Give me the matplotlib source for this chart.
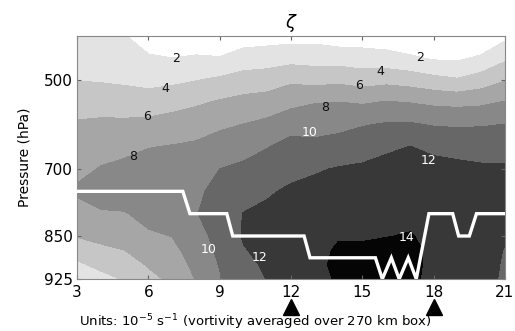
import numpy as np
import matplotlib
matplotlib.use("Agg")
import matplotlib.pyplot as plt

# ---------------- data ----------------
days = [3, 4, 5, 6, 7, 8, 9, 10, 11, 12, 13, 14, 15, 16, 17, 18, 19, 20, 21]
pressure = [400, 450, 500, 550, 600, 650, 700, 750, 800, 850, 875, 900, 925]

# vorticity (1e-5 s^-1), one list per day column, top (400 hPa) to bottom (925 hPa)
zeta_by_day = [
    [2.6, 3.3, 3.95, 5.16, 6.21, 6.84, 7.46, 8.3, 7.16, 6.1, 4.88, 3.67, 3.0],
    [2.3, 3.1, 3.84, 5.15, 6.37, 7.25, 8.12, 8.88, 7.79, 6.51, 5.59, 4.48, 3.4],
    [2.1, 2.89, 3.68, 4.99, 6.40, 7.47, 8.49, 9.15, 7.86, 6.72, 5.98, 5.05, 4.13],
    [1.03, 2.22, 3.41, 4.9, 6.53, 7.93, 8.8, 9.6, 8.67, 7.68, 6.93, 6.17, 5.42],
    [0.6, 2.0, 3.57, 5.30, 6.82, 8.11, 8.98, 9.8, 8.89, 8.04, 7.49, 6.94, 6.4],
    [0.6, 2.23, 3.92, 5.70, 7.23, 8.28, 8.85, 9.7, 9.9, 9.3, 8.9, 8.5, 8.1],
    [0.5, 2.1, 4.35, 6.21, 7.65, 8.86, 10.0, 10.48, 10.95, 10.62, 10.36, 10.1, 9.84],
    [0.96, 2.87, 4.82, 6.6, 8.03, 9.3, 10.38, 11.22, 12.05, 12.15, 11.9, 11.55, 11.2],
    [1.13, 3.04, 5.0, 6.87, 8.48, 9.92, 10.86, 11.77, 12.4, 12.6, 12.45, 12.25, 12.05],
    [1.27, 3.27, 5.65, 7.43, 9.32, 10.58, 11.45, 12.3, 12.7, 13.0, 13.15, 13.2, 13.1],
    [1.33, 3.17, 5.33, 7.92, 9.23, 10.52, 11.82, 12.5, 13.0, 13.4, 13.55, 13.6, 13.6],
    [0.9, 3.1, 5.53, 8.02, 9.41, 10.85, 12.13, 12.72, 13.31, 13.89, 14.2, 14.35, 14.15],
    [0.96, 2.87, 5.13, 7.8, 9.86, 11.3, 12.26, 12.78, 13.31, 13.84, 14.25, 14.5, 14.55],
    [0.78, 2.7, 5.4, 8.12, 10.18, 11.77, 12.43, 12.94, 13.45, 13.95, 14.45, 14.7, 14.75],
    [0.3, 2.3, 5.11, 7.93, 10.21, 12.02, 12.53, 13.04, 13.56, 14.1, 14.45, 14.5, 14.4],
    [0.2, 1.76, 4.6, 7.61, 9.85, 11.73, 12.4, 12.9, 13.3, 13.6, 13.6, 13.55, 13.5],
    [0.2, 1.67, 4.2, 7.48, 9.75, 11.58, 12.3, 12.8, 13.2, 13.45, 13.5, 13.45, 13.35],
    [0.3, 2.3, 4.91, 7.63, 9.85, 11.3, 12.25, 12.7, 12.95, 13.0, 12.95, 12.9, 12.9],
    [1.52, 3.62, 5.89, 8.11, 10.03, 11.47, 12.16, 12.4, 12.4, 12.15, 11.9, 11.75, 11.6],
]

levels = [-5, 2, 4, 6, 8, 10, 12, 14, 20]
band_colors = ["#ffffff", "#e3e3e3", "#c6c6c6", "#a6a6a6", "#888888",
               "#676767", "#383838", "#050505"]

# white step line
line_day = [3, 7.45, 7.75, 9.3, 9.55, 12.55, 12.8, 15.55, 15.84, 16.22, 16.55,
            16.93, 17.27, 17.8, 18.8, 19.05, 19.5, 19.8, 21]
line_p = [750, 750, 800, 800, 850, 850, 888, 888, 925, 888, 925,
          888, 925, 800, 800, 850, 850, 800, 800]

# contour labels
lab_day = [7.15, 6.73, 5.94, 5.35, 17.44, 15.76, 14.88, 13.45, 12.78, 17.77, 8.54, 10.68, 16.85]
lab_p = [450, 520, 583, 673, 448, 480, 513, 561, 619, 682, 874, 888, 852]
lab_txt = ["2", "4", "6", "8", "2", "4", "6", "8", "10", "12", "10", "12", "14"]

marker_days = [12, 18]
xticks = [3, 6, 9, 12, 15, 18, 21]
yticks = [500, 700, 850, 925]

# ---------------- vertical axis mapping ----------------
p_knots = [400, 500, 700, 850, 925]
pos_knots = [243, 199, 110, 43, 0]


def fwd(p):
    return np.interp(p, p_knots, pos_knots)


def inv(s):
    return np.interp(s, pos_knots[::-1], p_knots[::-1])


# ---------------- figure ----------------
fig = plt.figure(figsize=(5.15, 3.31), dpi=100)
ax = fig.add_axes([77 / 515, 52 / 331, 428 / 515, 243 / 331])
ax.set_yscale("function", functions=(fwd, inv))

Z = np.array(zeta_by_day).T
X, P = np.meshgrid(days, pressure)
ax.contourf(X, P, Z, levels=levels, colors=band_colors)

ax.plot(line_day, line_p, color="white", lw=2.4, solid_joinstyle="miter", zorder=3)

for xd, pd, t in zip(lab_day, lab_p, lab_txt):
    col = "white" if int(t) >= 10 else "#111111"
    ax.text(xd, pd, t, color=col, fontsize=9, ha="center", va="center", zorder=4)

ax.set_xlim(3, 21)
ax.set_ylim(400, 925)
ax.set_xticks(xticks)
ax.set_yticks(yticks)
ax.set_yticklabels([str(v) for v in yticks])
ax.minorticks_off()
ax.tick_params(direction="in", length=3, top=True, right=True, labelsize=11,
               color="#666666")
ax.tick_params(axis="x", pad=4)
ax.tick_params(axis="y", pad=3)
for s in ax.spines.values():
    s.set_color("#888888")
    s.set_linewidth(0.8)

ax.plot(marker_days, [-0.115] * len(marker_days), ls="none", marker="^",
        ms=11, color="black", transform=ax.get_xaxis_transform(), clip_on=False)

ax.set_ylabel("Pressure (hPa)", fontsize=10, labelpad=9)
ax.set_title(r"$\zeta$", fontsize=13, pad=6)
fig.text(255 / 515, 9 / 331,
         r"Units: 10$^{-5}$ s$^{-1}$ (vortivity averaged over 270 km box)",
         ha="center", va="center", fontsize=9.5)

fig.savefig("out.png", dpi=100)
